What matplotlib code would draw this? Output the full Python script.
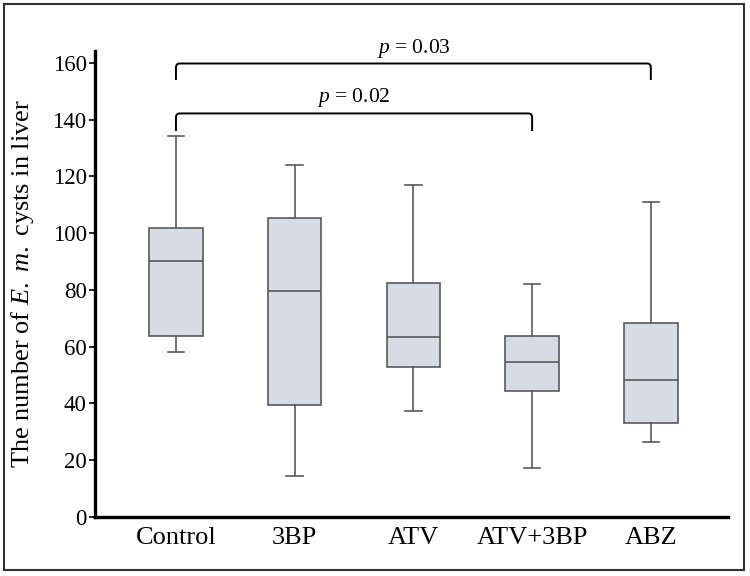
import matplotlib
matplotlib.use("Agg")
import matplotlib.pyplot as plt
from matplotlib.patches import Rectangle
from matplotlib.path import Path
from matplotlib.patches import PathPatch

plt.rcParams['font.family'] = ['Liberation Serif', 'DejaVu Serif']
plt.rcParams['mathtext.fontset'] = 'custom'
plt.rcParams['mathtext.it'] = 'Liberation Serif:italic'
plt.rcParams['mathtext.rm'] = 'Liberation Serif'

categories = ["Control", "3BP", "ATV", "ATV+3BP", "ABZ"]
whisker_low = [58.3, 14.5, 37.2, 17.2, 26.5]
q1 = [63.9, 39.6, 52.9, 44.5, 33.0]
median = [90.3, 79.6, 63.3, 54.7, 48.4]
q3 = [101.8, 105.5, 82.5, 63.8, 68.2]
whisker_high = [134.3, 124.0, 117.1, 82.1, 111.1]

brackets = [(1, 5, 159.8, 154.0, "0.03"), (1, 4, 142.2, 136.0, "0.02")]
yticks = [0, 20, 40, 60, 80, 100, 120, 140, 160]

fig = plt.figure(figsize=(7.5, 5.76), dpi=100)
ax = fig.add_axes([95/750, 1-517/576, (728-95)/750, (517-51)/576])

stats = []
for i, c in enumerate(categories):
    stats.append(dict(label=c, whislo=whisker_low[i], q1=q1[i], med=median[i],
                      q3=q3[i], whishi=whisker_high[i], fliers=[]))

edge = '#5a5a5a'
ax.bxp(stats, positions=range(1, len(categories)+1), widths=0.45, capwidths=0.14,
       patch_artist=True, showfliers=False,
       boxprops=dict(facecolor='#d6dce5', edgecolor=edge, linewidth=1.2),
       medianprops=dict(color=edge, linewidth=1.2),
       whiskerprops=dict(color=edge, linewidth=1.2),
       capprops=dict(color=edge, linewidth=1.2))

ax.set_xlim(0.318, 5.65)
ax.set_ylim(0, 164.2)
ax.set_yticks(yticks)
ax.set_yticklabels([str(t) for t in yticks], fontsize=16.5)
ax.set_xticks(range(1, len(categories)+1))
ax.set_xticklabels(categories, fontsize=19)
ax.tick_params(axis='x', length=0, pad=7)
ax.tick_params(axis='y', length=4, width=1.2, pad=2)
for s in ['top', 'right']:
    ax.spines[s].set_visible(False)
for s in ['left', 'bottom']:
    ax.spines[s].set_linewidth(2.4)
    ax.spines[s].set_color('black')

ax.set_ylabel("The number of $\\it{E.}$ $\\it{m.}$ cysts in liver", fontsize=19)
ax.yaxis.label.set_va('center')
ax.yaxis.set_label_coords(-(95 - 22) / 633, 0.5)

for (x1, x2, yb, ye, p) in brackets:
    r = 0.03
    rv = 1.5
    verts = [(x1, ye), (x1, yb - rv), (x1, yb), (x1 + r, yb),
             (x2 - r, yb), (x2, yb), (x2, yb - rv), (x2, ye)]
    codes = [Path.MOVETO, Path.LINETO, Path.CURVE3, Path.CURVE3,
             Path.LINETO, Path.CURVE3, Path.CURVE3, Path.LINETO]
    ax.add_patch(PathPatch(Path(verts, codes), facecolor='none', edgecolor='black',
                           linewidth=1.4, clip_on=False))
    ax.text((x1 + x2) / 2, yb + 1.4, "$\\it{p}$ = " + p, ha='center', va='bottom',
            fontsize=15.5, clip_on=False)

fig.patches.append(Rectangle((4/750, 1-570/576), 740/750, 566/576, transform=fig.transFigure,
                             fill=False, edgecolor='#333333', linewidth=1.5))

fig.savefig("out.png", dpi=100)
